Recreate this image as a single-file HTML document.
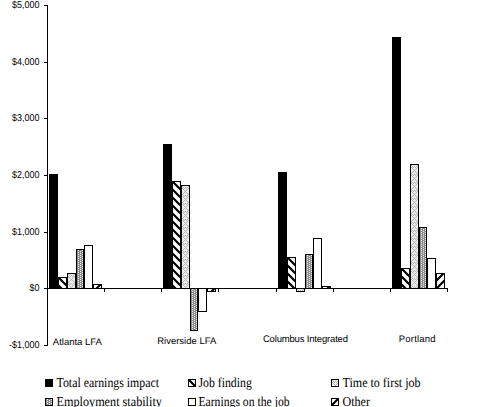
<!DOCTYPE html>
<html><head><meta charset="utf-8"><style>
html,body{margin:0;padding:0;background:#fff;}
body{width:484px;height:407px;overflow:hidden;position:relative;}
svg{position:absolute;left:0;top:0;}
.t{font-family:"Liberation Sans",sans-serif;font-size:9px;fill:#000;text-rendering:geometricPrecision;}
.l{font-family:"Liberation Serif",serif;font-size:13.6px;fill:#000;text-rendering:geometricPrecision;}
.c{font-family:"Liberation Sans",sans-serif;font-size:9.5px;fill:#000;text-rendering:geometricPrecision;}
</style></head><body>
<svg width="484" height="407" viewBox="0 0 484 407" shape-rendering="crispEdges">

<defs><pattern id="p1" patternUnits="userSpaceOnUse" width="8" height="8" patternTransform="translate(58,277)"><rect width="8" height="8" fill="#fff"/><path d="M0,0 L8,8 M-4,4 L4,12 M4,-4 L12,4" stroke="#000" stroke-width="2.2" shape-rendering="auto"/></pattern>
<pattern id="p2" patternUnits="userSpaceOnUse" width="8" height="8" patternTransform="translate(67,273)"><rect width="8" height="8" fill="#ebebeb"/><rect x="2" y="0" width="1" height="1" fill="#b8b8b8"/><rect x="6" y="0" width="1" height="1" fill="#b8b8b8"/><rect x="1" y="1" width="1" height="1" fill="#b8b8b8"/><rect x="7" y="1" width="1" height="1" fill="#b8b8b8"/><rect x="0" y="2" width="1" height="1" fill="#b8b8b8"/><rect x="2" y="2" width="1" height="1" fill="#b8b8b8"/><rect x="4" y="2" width="1" height="1" fill="#b8b8b8"/><rect x="6" y="2" width="1" height="1" fill="#b8b8b8"/><rect x="1" y="3" width="1" height="1" fill="#b8b8b8"/><rect x="3" y="3" width="1" height="1" fill="#b8b8b8"/><rect x="5" y="3" width="1" height="1" fill="#b8b8b8"/><rect x="7" y="3" width="1" height="1" fill="#b8b8b8"/><rect x="2" y="4" width="1" height="1" fill="#b8b8b8"/><rect x="6" y="4" width="1" height="1" fill="#b8b8b8"/><rect x="3" y="5" width="1" height="1" fill="#b8b8b8"/><rect x="5" y="5" width="1" height="1" fill="#b8b8b8"/><rect x="4" y="6" width="1" height="1" fill="#b8b8b8"/><rect x="3" y="7" width="1" height="1" fill="#b8b8b8"/><rect x="5" y="7" width="1" height="1" fill="#b8b8b8"/></pattern>
<pattern id="p3" patternUnits="userSpaceOnUse" width="4" height="2" patternTransform="translate(76,249)"><rect width="4" height="2" fill="#8a8a8a"/><rect x="0" y="0" width="1" height="1" fill="#f4f4f4"/><rect x="2" y="1" width="1" height="1" fill="#f4f4f4"/></pattern>
<pattern id="p4" patternUnits="userSpaceOnUse" width="8" height="8" patternTransform="translate(93,284)"><rect width="8" height="8" fill="#fff"/><path d="M0,8 L8,0 M-4,4 L4,-4 M4,12 L12,4" stroke="#000" stroke-width="2.2" shape-rendering="auto"/></pattern>
<pattern id="p5" patternUnits="userSpaceOnUse" width="8" height="8" patternTransform="translate(172,181)"><rect width="8" height="8" fill="#fff"/><path d="M0,0 L8,8 M-4,4 L4,12 M4,-4 L12,4" stroke="#000" stroke-width="2.2" shape-rendering="auto"/></pattern>
<pattern id="p6" patternUnits="userSpaceOnUse" width="8" height="8" patternTransform="translate(181,185)"><rect width="8" height="8" fill="#ebebeb"/><rect x="2" y="0" width="1" height="1" fill="#b8b8b8"/><rect x="6" y="0" width="1" height="1" fill="#b8b8b8"/><rect x="1" y="1" width="1" height="1" fill="#b8b8b8"/><rect x="7" y="1" width="1" height="1" fill="#b8b8b8"/><rect x="0" y="2" width="1" height="1" fill="#b8b8b8"/><rect x="2" y="2" width="1" height="1" fill="#b8b8b8"/><rect x="4" y="2" width="1" height="1" fill="#b8b8b8"/><rect x="6" y="2" width="1" height="1" fill="#b8b8b8"/><rect x="1" y="3" width="1" height="1" fill="#b8b8b8"/><rect x="3" y="3" width="1" height="1" fill="#b8b8b8"/><rect x="5" y="3" width="1" height="1" fill="#b8b8b8"/><rect x="7" y="3" width="1" height="1" fill="#b8b8b8"/><rect x="2" y="4" width="1" height="1" fill="#b8b8b8"/><rect x="6" y="4" width="1" height="1" fill="#b8b8b8"/><rect x="3" y="5" width="1" height="1" fill="#b8b8b8"/><rect x="5" y="5" width="1" height="1" fill="#b8b8b8"/><rect x="4" y="6" width="1" height="1" fill="#b8b8b8"/><rect x="3" y="7" width="1" height="1" fill="#b8b8b8"/><rect x="5" y="7" width="1" height="1" fill="#b8b8b8"/></pattern>
<pattern id="p7" patternUnits="userSpaceOnUse" width="4" height="2" patternTransform="translate(190,288)"><rect width="4" height="2" fill="#8a8a8a"/><rect x="0" y="0" width="1" height="1" fill="#f4f4f4"/><rect x="2" y="1" width="1" height="1" fill="#f4f4f4"/></pattern>
<pattern id="p8" patternUnits="userSpaceOnUse" width="8" height="8" patternTransform="translate(207,288)"><rect width="8" height="8" fill="#fff"/><path d="M0,8 L8,0 M-4,4 L4,-4 M4,12 L12,4" stroke="#000" stroke-width="2.2" shape-rendering="auto"/></pattern>
<pattern id="p9" patternUnits="userSpaceOnUse" width="8" height="8" patternTransform="translate(287,257)"><rect width="8" height="8" fill="#fff"/><path d="M0,0 L8,8 M-4,4 L4,12 M4,-4 L12,4" stroke="#000" stroke-width="2.2" shape-rendering="auto"/></pattern>
<pattern id="p10" patternUnits="userSpaceOnUse" width="8" height="8" patternTransform="translate(296,288)"><rect width="8" height="8" fill="#ebebeb"/><rect x="2" y="0" width="1" height="1" fill="#b8b8b8"/><rect x="6" y="0" width="1" height="1" fill="#b8b8b8"/><rect x="1" y="1" width="1" height="1" fill="#b8b8b8"/><rect x="7" y="1" width="1" height="1" fill="#b8b8b8"/><rect x="0" y="2" width="1" height="1" fill="#b8b8b8"/><rect x="2" y="2" width="1" height="1" fill="#b8b8b8"/><rect x="4" y="2" width="1" height="1" fill="#b8b8b8"/><rect x="6" y="2" width="1" height="1" fill="#b8b8b8"/><rect x="1" y="3" width="1" height="1" fill="#b8b8b8"/><rect x="3" y="3" width="1" height="1" fill="#b8b8b8"/><rect x="5" y="3" width="1" height="1" fill="#b8b8b8"/><rect x="7" y="3" width="1" height="1" fill="#b8b8b8"/><rect x="2" y="4" width="1" height="1" fill="#b8b8b8"/><rect x="6" y="4" width="1" height="1" fill="#b8b8b8"/><rect x="3" y="5" width="1" height="1" fill="#b8b8b8"/><rect x="5" y="5" width="1" height="1" fill="#b8b8b8"/><rect x="4" y="6" width="1" height="1" fill="#b8b8b8"/><rect x="3" y="7" width="1" height="1" fill="#b8b8b8"/><rect x="5" y="7" width="1" height="1" fill="#b8b8b8"/></pattern>
<pattern id="p11" patternUnits="userSpaceOnUse" width="4" height="2" patternTransform="translate(305,254)"><rect width="4" height="2" fill="#8a8a8a"/><rect x="0" y="0" width="1" height="1" fill="#f4f4f4"/><rect x="2" y="1" width="1" height="1" fill="#f4f4f4"/></pattern>
<pattern id="p12" patternUnits="userSpaceOnUse" width="8" height="8" patternTransform="translate(322,286)"><rect width="8" height="8" fill="#fff"/><path d="M0,8 L8,0 M-4,4 L4,-4 M4,12 L12,4" stroke="#000" stroke-width="2.2" shape-rendering="auto"/></pattern>
<pattern id="p13" patternUnits="userSpaceOnUse" width="8" height="8" patternTransform="translate(401,268)"><rect width="8" height="8" fill="#fff"/><path d="M0,0 L8,8 M-4,4 L4,12 M4,-4 L12,4" stroke="#000" stroke-width="2.2" shape-rendering="auto"/></pattern>
<pattern id="p14" patternUnits="userSpaceOnUse" width="8" height="8" patternTransform="translate(410,164)"><rect width="8" height="8" fill="#ebebeb"/><rect x="2" y="0" width="1" height="1" fill="#b8b8b8"/><rect x="6" y="0" width="1" height="1" fill="#b8b8b8"/><rect x="1" y="1" width="1" height="1" fill="#b8b8b8"/><rect x="7" y="1" width="1" height="1" fill="#b8b8b8"/><rect x="0" y="2" width="1" height="1" fill="#b8b8b8"/><rect x="2" y="2" width="1" height="1" fill="#b8b8b8"/><rect x="4" y="2" width="1" height="1" fill="#b8b8b8"/><rect x="6" y="2" width="1" height="1" fill="#b8b8b8"/><rect x="1" y="3" width="1" height="1" fill="#b8b8b8"/><rect x="3" y="3" width="1" height="1" fill="#b8b8b8"/><rect x="5" y="3" width="1" height="1" fill="#b8b8b8"/><rect x="7" y="3" width="1" height="1" fill="#b8b8b8"/><rect x="2" y="4" width="1" height="1" fill="#b8b8b8"/><rect x="6" y="4" width="1" height="1" fill="#b8b8b8"/><rect x="3" y="5" width="1" height="1" fill="#b8b8b8"/><rect x="5" y="5" width="1" height="1" fill="#b8b8b8"/><rect x="4" y="6" width="1" height="1" fill="#b8b8b8"/><rect x="3" y="7" width="1" height="1" fill="#b8b8b8"/><rect x="5" y="7" width="1" height="1" fill="#b8b8b8"/></pattern>
<pattern id="p15" patternUnits="userSpaceOnUse" width="4" height="2" patternTransform="translate(419,227)"><rect width="4" height="2" fill="#8a8a8a"/><rect x="0" y="0" width="1" height="1" fill="#f4f4f4"/><rect x="2" y="1" width="1" height="1" fill="#f4f4f4"/></pattern>
<pattern id="p16" patternUnits="userSpaceOnUse" width="8" height="8" patternTransform="translate(436,273)"><rect width="8" height="8" fill="#fff"/><path d="M0,8 L8,0 M-4,4 L4,-4 M4,12 L12,4" stroke="#000" stroke-width="2.2" shape-rendering="auto"/></pattern>
<pattern id="p17" patternUnits="userSpaceOnUse" width="8" height="8" patternTransform="translate(188,379)"><rect width="8" height="8" fill="#fff"/><path d="M0,0 L8,8 M-4,4 L4,12 M4,-4 L12,4" stroke="#000" stroke-width="2.2" shape-rendering="auto"/></pattern>
<pattern id="p18" patternUnits="userSpaceOnUse" width="8" height="8" patternTransform="translate(331,379)"><rect width="8" height="8" fill="#ebebeb"/><rect x="2" y="0" width="1" height="1" fill="#b8b8b8"/><rect x="6" y="0" width="1" height="1" fill="#b8b8b8"/><rect x="1" y="1" width="1" height="1" fill="#b8b8b8"/><rect x="7" y="1" width="1" height="1" fill="#b8b8b8"/><rect x="0" y="2" width="1" height="1" fill="#b8b8b8"/><rect x="2" y="2" width="1" height="1" fill="#b8b8b8"/><rect x="4" y="2" width="1" height="1" fill="#b8b8b8"/><rect x="6" y="2" width="1" height="1" fill="#b8b8b8"/><rect x="1" y="3" width="1" height="1" fill="#b8b8b8"/><rect x="3" y="3" width="1" height="1" fill="#b8b8b8"/><rect x="5" y="3" width="1" height="1" fill="#b8b8b8"/><rect x="7" y="3" width="1" height="1" fill="#b8b8b8"/><rect x="2" y="4" width="1" height="1" fill="#b8b8b8"/><rect x="6" y="4" width="1" height="1" fill="#b8b8b8"/><rect x="3" y="5" width="1" height="1" fill="#b8b8b8"/><rect x="5" y="5" width="1" height="1" fill="#b8b8b8"/><rect x="4" y="6" width="1" height="1" fill="#b8b8b8"/><rect x="3" y="7" width="1" height="1" fill="#b8b8b8"/><rect x="5" y="7" width="1" height="1" fill="#b8b8b8"/></pattern>
<pattern id="p19" patternUnits="userSpaceOnUse" width="4" height="2" patternTransform="translate(45,398)"><rect width="4" height="2" fill="#8a8a8a"/><rect x="0" y="0" width="1" height="1" fill="#f4f4f4"/><rect x="2" y="1" width="1" height="1" fill="#f4f4f4"/></pattern>
<pattern id="p20" patternUnits="userSpaceOnUse" width="8" height="8" patternTransform="translate(331,398)"><rect width="8" height="8" fill="#fff"/><path d="M0,8 L8,0 M-4,4 L4,-4 M4,12 L12,4" stroke="#000" stroke-width="2.2" shape-rendering="auto"/></pattern></defs>
<rect x="49" y="174" width="9" height="115" fill="#000"/>
<rect x="50" y="175" width="7" height="113" fill="#000"/>
<rect x="58" y="277" width="9" height="12" fill="#000"/>
<rect x="59" y="278" width="7" height="10" fill="url(#p1)"/>
<rect x="67" y="273" width="9" height="16" fill="#000"/>
<rect x="68" y="274" width="7" height="14" fill="url(#p2)"/>
<rect x="76" y="249" width="8" height="40" fill="#000"/>
<rect x="77" y="250" width="6" height="38" fill="url(#p3)"/>
<rect x="84" y="245" width="9" height="44" fill="#000"/>
<rect x="85" y="246" width="7" height="42" fill="#fff"/>
<rect x="93" y="284" width="9" height="5" fill="#000"/>
<rect x="94" y="285" width="7" height="3" fill="url(#p4)"/>
<rect x="163" y="144" width="9" height="145" fill="#000"/>
<rect x="164" y="145" width="7" height="143" fill="#000"/>
<rect x="172" y="181" width="9" height="108" fill="#000"/>
<rect x="173" y="182" width="7" height="106" fill="url(#p5)"/>
<rect x="181" y="185" width="9" height="104" fill="#000"/>
<rect x="182" y="186" width="7" height="102" fill="url(#p6)"/>
<rect x="190" y="288" width="8" height="43" fill="#000"/>
<rect x="191" y="289" width="6" height="41" fill="url(#p7)"/>
<rect x="198" y="288" width="9" height="24" fill="#000"/>
<rect x="199" y="289" width="7" height="22" fill="#fff"/>
<rect x="207" y="288" width="9" height="4" fill="#000"/>
<rect x="208" y="289" width="7" height="2" fill="url(#p8)"/>
<rect x="278" y="172" width="9" height="117" fill="#000"/>
<rect x="279" y="173" width="7" height="115" fill="#000"/>
<rect x="287" y="257" width="9" height="32" fill="#000"/>
<rect x="288" y="258" width="7" height="30" fill="url(#p9)"/>
<rect x="296" y="288" width="9" height="4" fill="#000"/>
<rect x="297" y="289" width="7" height="2" fill="url(#p10)"/>
<rect x="305" y="254" width="8" height="35" fill="#000"/>
<rect x="306" y="255" width="6" height="33" fill="url(#p11)"/>
<rect x="313" y="238" width="9" height="51" fill="#000"/>
<rect x="314" y="239" width="7" height="49" fill="#fff"/>
<rect x="322" y="286" width="9" height="3" fill="#000"/>
<rect x="323" y="287" width="7" height="1" fill="url(#p12)"/>
<rect x="392" y="37" width="9" height="252" fill="#000"/>
<rect x="393" y="38" width="7" height="250" fill="#000"/>
<rect x="401" y="268" width="9" height="21" fill="#000"/>
<rect x="402" y="269" width="7" height="19" fill="url(#p13)"/>
<rect x="410" y="164" width="9" height="125" fill="#000"/>
<rect x="411" y="165" width="7" height="123" fill="url(#p14)"/>
<rect x="419" y="227" width="8" height="62" fill="#000"/>
<rect x="420" y="228" width="6" height="60" fill="url(#p15)"/>
<rect x="427" y="258" width="9" height="31" fill="#000"/>
<rect x="428" y="259" width="7" height="29" fill="#fff"/>
<rect x="436" y="273" width="9" height="16" fill="#000"/>
<rect x="437" y="274" width="7" height="14" fill="url(#p16)"/>
<rect x="47" y="5" width="1" height="341" fill="#000"/>
<rect x="47" y="288" width="401" height="1" fill="#000"/>
<rect x="44" y="5" width="3" height="1" fill="#000"/>
<text class="t" transform="translate(39.5,7.5) scale(1,1.1)" text-anchor="end">$5,000</text>
<rect x="44" y="62" width="3" height="1" fill="#000"/>
<text class="t" transform="translate(39.5,64.5) scale(1,1.1)" text-anchor="end">$4,000</text>
<rect x="44" y="118" width="3" height="1" fill="#000"/>
<text class="t" transform="translate(39.5,120.5) scale(1,1.1)" text-anchor="end">$3,000</text>
<rect x="44" y="175" width="3" height="1" fill="#000"/>
<text class="t" transform="translate(39.5,177.5) scale(1,1.1)" text-anchor="end">$2,000</text>
<rect x="44" y="232" width="3" height="1" fill="#000"/>
<text class="t" transform="translate(39.5,234.5) scale(1,1.1)" text-anchor="end">$1,000</text>
<rect x="44" y="288" width="3" height="1" fill="#000"/>
<text class="t" transform="translate(39.5,290.5) scale(1,1.1)" text-anchor="end">$0</text>
<rect x="44" y="345" width="3" height="1" fill="#000"/>
<text class="t" transform="translate(39.5,347.5) scale(1,1.1)" text-anchor="end">-$1,000</text>
<rect x="47" y="289" width="1" height="3" fill="#000"/>
<rect x="104" y="289" width="1" height="3" fill="#000"/>
<rect x="161" y="289" width="1" height="3" fill="#000"/>
<rect x="218" y="289" width="1" height="3" fill="#000"/>
<rect x="276" y="289" width="1" height="3" fill="#000"/>
<rect x="333" y="289" width="1" height="3" fill="#000"/>
<rect x="390" y="289" width="1" height="3" fill="#000"/>
<rect x="447" y="289" width="1" height="3" fill="#000"/>
<text class="c" x="52.8" y="345" letter-spacing="0">Atlanta LFA</text>
<text class="c" x="157.2" y="344" letter-spacing="0">Riverside LFA</text>
<text class="c" x="262.9" y="342" letter-spacing="-0.17">Columbus Integrated</text>
<text class="c" x="398.8" y="342" letter-spacing="0.2">Portland</text>
<rect x="45" y="379" width="8" height="8" fill="#000"/>
<rect x="46" y="380" width="6" height="6" fill="#000"/>
<text class="l" x="56.5" y="387" textLength="102.6" lengthAdjust="spacingAndGlyphs">Total earnings impact</text>
<rect x="188" y="379" width="8" height="8" fill="#000"/>
<rect x="189" y="380" width="6" height="6" fill="url(#p17)"/>
<text class="l" x="198.4" y="387" textLength="53.4" lengthAdjust="spacingAndGlyphs">Job finding</text>
<rect x="331" y="379" width="8" height="8" fill="#000"/>
<rect x="332" y="380" width="6" height="6" fill="url(#p18)"/>
<text class="l" x="342.5" y="387" textLength="78.1" lengthAdjust="spacingAndGlyphs">Time to first job</text>
<rect x="45" y="398" width="8" height="8" fill="#000"/>
<rect x="46" y="399" width="6" height="6" fill="url(#p19)"/>
<text class="l" x="56.5" y="406" textLength="105.4" lengthAdjust="spacingAndGlyphs">Employment stability</text>
<rect x="188" y="398" width="8" height="8" fill="#000"/>
<rect x="189" y="399" width="6" height="6" fill="#fff"/>
<text class="l" x="198.4" y="406" textLength="91.2" lengthAdjust="spacingAndGlyphs">Earnings on the job</text>
<rect x="331" y="398" width="8" height="8" fill="#000"/>
<rect x="332" y="399" width="6" height="6" fill="url(#p20)"/>
<text class="l" x="342.5" y="406" textLength="27.5" lengthAdjust="spacingAndGlyphs">Other</text>
</svg></body></html>
